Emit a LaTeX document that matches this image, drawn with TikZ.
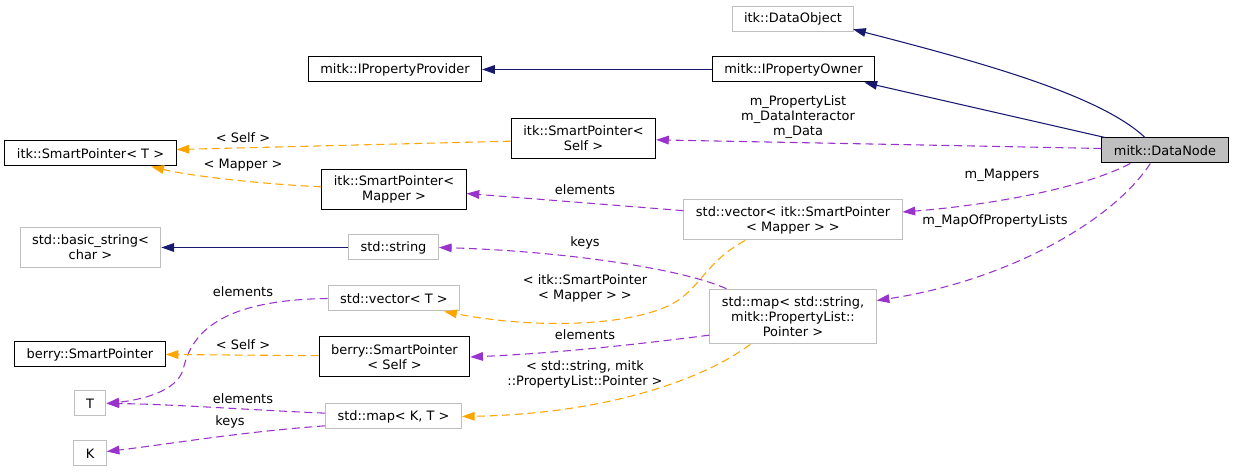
\documentclass[tikz,border=0pt]{standalone}
\usepackage{fontspec}
\setmainfont{DejaVu Sans}
\usetikzlibrary{arrows.meta}
\definecolor{edgeblue}{HTML}{191970}
\definecolor{edgeorchid}{HTML}{9A32CD}
\definecolor{edgeorange}{HTML}{FFA500}
\definecolor{boxgray}{HTML}{BFBFBF}
\definecolor{fillgray}{HTML}{BFBFBF}
\tikzset{
	docbox/.style={draw=black, line width=0.75pt, inner xsep=9pt, inner ysep=1pt, minimum height=18.75pt, align=center},
	extbox/.style={docbox, draw=boxgray},
	twoline/.style={minimum height=30pt},
	threeline/.style={minimum height=41pt},
	inherit/.style={draw=edgeblue, line width=0.8pt, -{Triangle[length=9.5pt,width=6.5pt]}},
	uses/.style={draw=edgeorchid, line width=0.8pt, dash pattern=on 6pt off 3.5pt, -{Triangle[length=9.5pt,width=6.5pt,fill=edgeorchid]}},
	templ/.style={draw=edgeorange, line width=0.8pt, dash pattern=on 6pt off 3.5pt, -{Triangle[length=9.5pt,width=6.5pt,fill=edgeorange]}},
	lbl/.style={inner sep=0pt, align=center}
}

\begin{document}
\begin{tikzpicture}[x=0.75pt, y=-0.75pt, font=\fontsize{9.7pt}{11.25pt}\selectfont]
		%%%%% START %%%%%
		\useasboundingbox (0,0) rectangle (1233,473);
		
		% right and top column
		\node[docbox, fill=fillgray] (dnode) at (1165,150.5) {mitk::DataNode};
		\node[extbox] (dobj) at (793,19) {itk::DataObject};
		\node[docbox] (powner) at (793.5,69.5) {mitk::IPropertyOwner};
		\node[extbox, twoline] (vecmap) at (793,220) {std::vector< itk::SmartPointer\\< Mapper > >};
		\node[extbox, threeline] (mapstr) at (793,316.5) {std::map< std::string,\\mitk::PropertyList::\\Pointer >};
		
		% middle column
		\node[docbox] (pprov) at (395,69.5) {mitk::IPropertyProvider};
		\node[docbox, twoline] (spself) at (583.5,138.5) {itk::SmartPointer<\\Self >};
		\node[docbox, twoline] (spmap) at (394,189.5) {itk::SmartPointer<\\Mapper >};
		\node[extbox] (str) at (393.5,247.5) {std::string};
		\node[extbox] (vecT) at (394,298.5) {std::vector< T >};
		\node[docbox, twoline] (bself) at (394.5,357) {berry::SmartPointer\\< Self >};
		\node[extbox] (mapKT) at (393.5,416.5) {std::map< K, T >};
		
		% left column
		\node[docbox] (spT) at (90.5,153.5) {itk::SmartPointer< T >};
		\node[extbox, twoline] (bstr) at (90.5,247.5) {std::basic\_string<\\char >};
		\node[docbox] (berry) at (90,354.5) {berry::SmartPointer};
		\node[extbox] (T) at (90,403.5) {T};
		\node[extbox] (K) at (90,453.5) {K};
		
		% inheritance
		\draw[inherit] ([xshift=-15pt]dnode.north) .. controls (1100,95) and (980,62) .. ([xshift=-1pt,yshift=2pt]dobj.south east);
		\draw[inherit] ([xshift=-45pt]dnode.north) -- ([xshift=-8pt]powner.south east);
		\draw[inherit] (powner.west) -- (pprov.east);
		\draw[inherit] (str.west) -- (bstr.east);
		
		% members
		\draw[uses] ([yshift=1.5pt]dnode.west) -- ([yshift=-1pt]spself.east);
		\draw[uses] ([xshift=-26pt]dnode.south) .. controls (1080,190) and (980,206) .. ([yshift=6pt]vecmap.east);
		\draw[uses] ([xshift=-11pt]dnode.south) .. controls (1110,225) and (1000,282) .. ([yshift=12pt]mapstr.east);
		\draw[uses] ([yshift=7pt]vecmap.west) -- ([yshift=-3pt]spmap.east);
		\draw[uses] ([xshift=-50pt]mapstr.north) .. controls (680,268) and (560,251) .. (str.east);
		\draw[uses] ([yshift=-14pt]mapstr.west) .. controls (640,344) and (560,353) .. (bself.east);
		\draw[uses] (vecT.west) .. controls (210,300) and (190,340) .. (183,370) .. controls (176,392) and (140,400) .. (T.east);
		\draw[uses] ([yshift=2.5pt]mapKT.west) .. controls (250,410) and (170,404) .. (T.east);
		\draw[uses] ([yshift=-7pt]mapKT.west) .. controls (240,432) and (170,444) .. ([yshift=1.5pt]K.east);
		
		% template arguments
		\draw[templ] ([yshift=-2pt]spself.west) -- ([yshift=3pt]spT.east);
		\draw[templ] ([yshift=2pt]spmap.west) .. controls (260,184) and (190,176) .. ([xshift=-19pt]spT.south east);
		\draw[templ] ([xshift=-36pt]vecmap.south) .. controls (705,262) and (700,290) .. (670,305) .. controls (630,325) and (540,330) .. ([xshift=-12pt]vecT.south east);
		\draw[templ] ([xshift=-32pt]mapstr.south) .. controls (700,382) and (600,414) .. (mapKT.east);
		\draw[templ] ([yshift=1pt]bself.west) -- (berry.east);
		
		% labels
		\node[lbl] (lmembers) at (798,117) {m\_PropertyList\\m\_DataInteractor\\m\_Data};
		\node[lbl] (lmappers) at (1002,175) {m\_Mappers};
		\node[lbl] (lmaplists) at (995,221) {m\_MapOfPropertyLists};
		\node[lbl] (lself) at (243,138) {< Self >};
		\node[lbl] (lmapper) at (243,165) {< Mapper >};
		\node[lbl] (lelemvec) at (585,190) {elements};
		\node[lbl] (lkeysstr) at (585,243) {keys};
		\node[lbl] (lspmapper) at (585,288) {< itk::SmartPointer\\< Mapper > >};
		\node[lbl] (lelembself) at (585,335) {elements};
		\node[lbl] (lstrptr) at (585,374) {< std::string, mitk\\::PropertyList::Pointer >};
		\node[lbl] (lelemT) at (243,292) {elements};
		\node[lbl] (lberryself) at (243,345) {< Self >};
		\node[lbl] (lelemKT) at (243,399) {elements};
		\node[lbl] (lkeysK) at (230,422) {keys};
		%%%%% END %%%%%
\end{tikzpicture}
\end{document}
